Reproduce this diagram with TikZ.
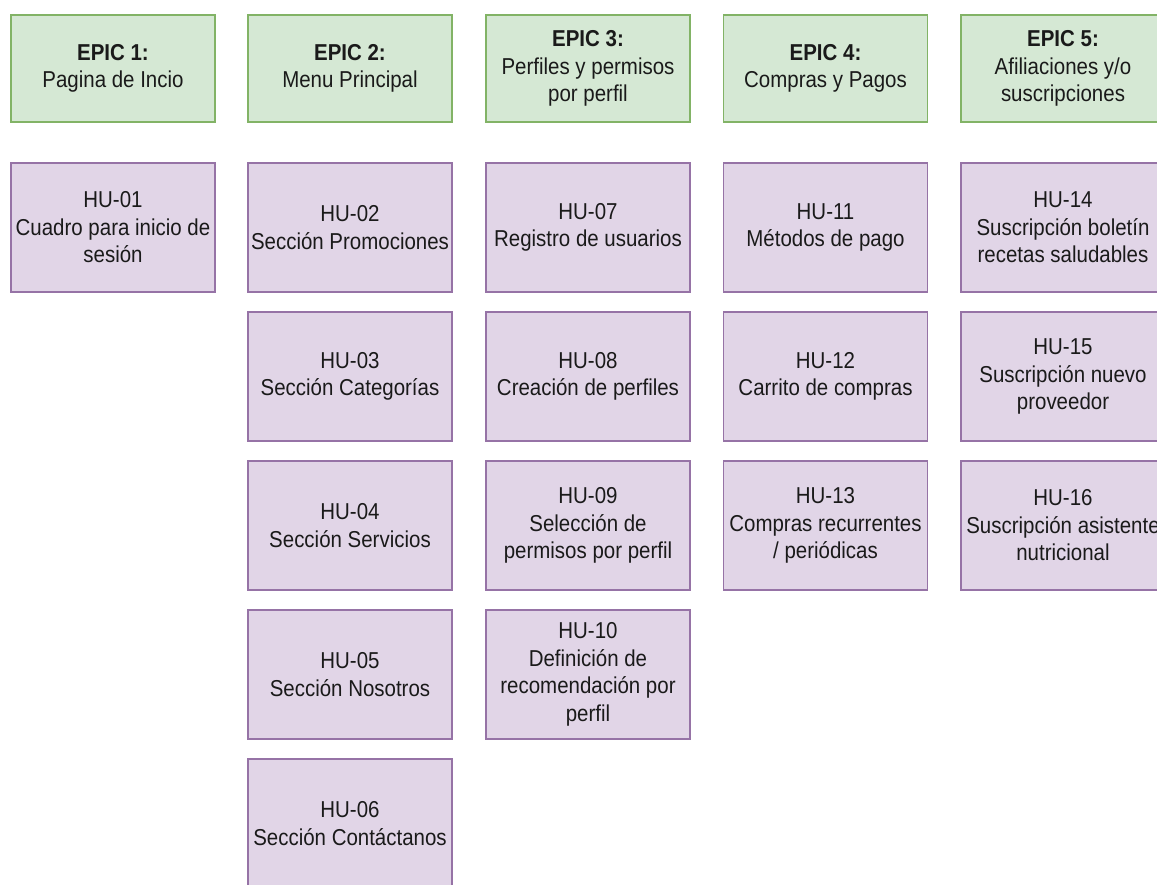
\documentclass[tikz,border=0pt]{standalone}
\usepackage{fontspec}
\setmainfont{Liberation Sans}[FakeStretch=0.89]
\definecolor{epicfill}{HTML}{D5E8D4}
\definecolor{epicline}{HTML}{82B366}
\definecolor{hufill}{HTML}{E1D5E7}
\definecolor{huline}{HTML}{9673A6}
\definecolor{ink}{HTML}{1A1A1A}
\begin{document}
\begin{tikzpicture}[x=1pt, y=-1pt,
  card/.style={rectangle, minimum width=204pt, minimum height=129pt,
    align=center, inner sep=0pt, line width=1.3pt, text=ink,
    font=\fontsize{23}{27.5}\selectfont},
  epic/.style={card, fill=epicfill, draw=epicline, minimum height=107pt},
  story/.style={card, fill=hufill, draw=huline}]
\useasboundingbox (0,0) rectangle (1157,884);
\clip (0,0) rectangle (1157,884);

% Epics (header row)
\node[epic] (e1) at (113,68.5)   {\textbf{EPIC 1:}\\Pagina de Incio};
\node[epic] (e2) at (350,68.5)   {\textbf{EPIC 2:}\\Menu Principal};
\node[epic] (e3) at (588,68.5)   {\textbf{EPIC 3:}\\Perfiles y permisos\\por perfil};
\node[epic] (e4) at (825.5,68.5) {\textbf{EPIC 4:}\\Compras y Pagos};
\node[epic] (e5) at (1063,68.5)  {\textbf{EPIC 5:}\\Afiliaciones y/o\\suscripciones};

% Epic 1
\node[story] (hu01) at (113,227.5) {HU-01\\Cuadro para inicio de\\sesión};

% Epic 2
\node[story] (hu02) at (350,227.5) {HU-02\\Sección Promociones};
\node[story] (hu03) at (350,376.5) {HU-03\\Sección Categorías};
\node[story] (hu04) at (350,525.5) {HU-04\\Sección Servicios};
\node[story] (hu05) at (350,674.5) {HU-05\\Sección Nosotros};
\node[story] (hu06) at (350,823.5) {HU-06\\Sección Contáctanos};

% Epic 3
\node[story] (hu07) at (588,227.5) {HU-07\\Registro de usuarios};
\node[story] (hu08) at (588,376.5) {HU-08\\Creación de perfiles};
\node[story] (hu09) at (588,525.5) {HU-09\\Selección de\\permisos por perfil};
\node[story] (hu10) at (588,674.5) {HU-10\\Definición de\\recomendación por\\perfil};

% Epic 4
\node[story] (hu11) at (825.5,227.5) {HU-11\\Métodos de pago};
\node[story] (hu12) at (825.5,376.5) {HU-12\\Carrito de compras};
\node[story] (hu13) at (825.5,525.5) {HU-13\\Compras recurrentes\\/ periódicas};

% Epic 5
\node[story] (hu14) at (1063,227.5) {HU-14\\Suscripción boletín\\recetas saludables};
\node[story] (hu15) at (1063,376.5) {HU-15\\Suscripción nuevo\\proveedor};
\node[story] (hu16) at (1063,525.5) {HU-16\\Suscripción asistente\\nutricional};
\end{tikzpicture}
\end{document}
